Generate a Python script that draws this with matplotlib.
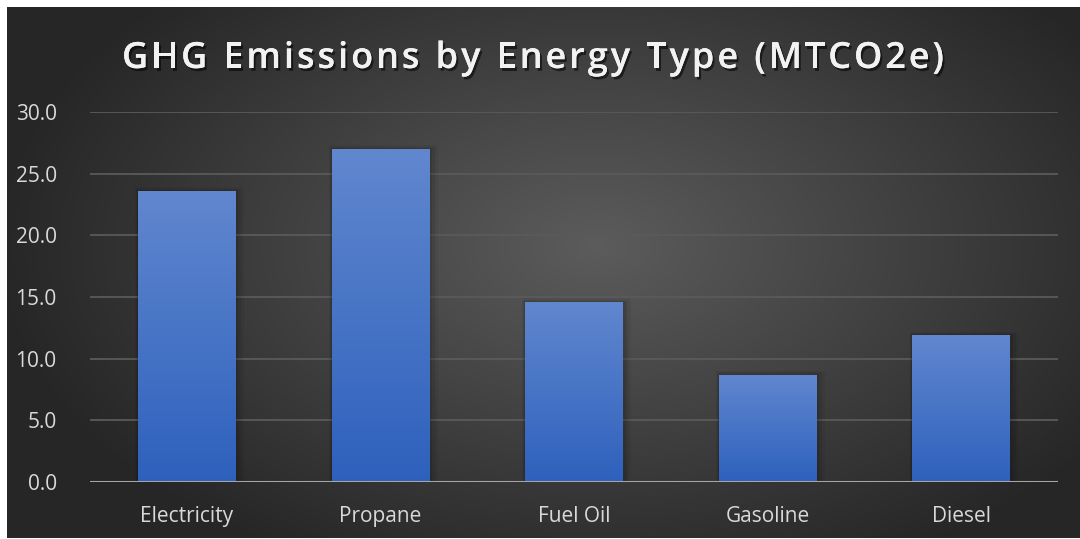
import numpy as np
import matplotlib
matplotlib.use("Agg")
import matplotlib.pyplot as plt
import matplotlib.patheffects as pe
from matplotlib.patches import Rectangle

# chart data
categories = ["Electricity", "Propane", "Fuel Oil", "Gasoline", "Diesel"]
emissions = [23.6, 27.0, 14.6, 8.7, 11.9]
yticks = [0, 5, 10, 15, 20, 25, 30]
title = "GHG Emissions by Energy Type (MTCO2e)"

W, H = 1080, 539
fig = plt.figure(figsize=(W / 100, H / 100), dpi=100)
fig.patch.set_facecolor("white")

# dark panel with radial gradient
bg = fig.add_axes([7 / W, 1 / H, (W - 7) / W, (H - 8) / H])
bg.set_axis_off()
yy, xx = np.mgrid[0:1:300j, 0:1:600j]
r = np.sqrt(((xx - 0.55) / 0.75) ** 2 + ((yy - 0.55) / 0.9) ** 2)
r = np.clip(r / 0.75, 0, 1)
c0, c1 = 0.36, 0.15
shade = c0 + (c1 - c0) * r
bg.imshow(np.dstack([shade] * 3), extent=[0, 1, 0, 1], aspect="auto", origin="lower")
bg.set_xlim(0, 1)
bg.set_ylim(0, 1)

# main axes
ax = fig.add_axes([90 / W, (H - 482) / H, (1058 - 90) / W, (482 - 112) / H])
ax.set_facecolor("none")
x = np.arange(len(categories))
ax.set_yticks(yticks)
ax.set_yticklabels([f"{v:.1f}" for v in yticks])
ax.set_xticks(x)
ax.set_xticklabels(categories)
ax.tick_params(length=0, colors="#d9d9d9", labelsize=15)
ax.tick_params(axis="x", pad=17)
ax.tick_params(axis="y", pad=24)
for lab in ax.get_xticklabels() + ax.get_yticklabels():
    lab.set_fontfamily("Open Sans")
for s in ax.spines.values():
    s.set_visible(False)
ax.set_axisbelow(True)
ax.yaxis.grid(True, color="#5a5a5a", linewidth=1.3)
ax.axhline(0, color="#a6a6a6", linewidth=2.2, zorder=6)

width = 0.505
grad = np.linspace(0, 1, 256).reshape(-1, 1)
top = np.array([0.38, 0.53, 0.81])
bot = np.array([0.18, 0.38, 0.74])
cols = (bot + (top - bot) * grad).reshape(256, 1, 3)
for xi, v in zip(x, emissions):
    # soft shadow
    for k, a in enumerate([0.09, 0.07, 0.05]):
        d = 0.012 * (k + 1)
        ax.add_patch(Rectangle((xi - width / 2 - d * 0.4, 0), width + d * 1.6, v + d * 8,
                               facecolor="black", alpha=a, edgecolor="none", zorder=2))
    rect = Rectangle((xi - width / 2, 0), width, v, facecolor="none", edgecolor="none", zorder=3)
    ax.add_patch(rect)
    im = ax.imshow(cols, extent=[xi - width / 2, xi + width / 2, 0, v], origin="lower",
                   aspect="auto", zorder=3)
    im.set_clip_path(rect)
ax.set_xlim(-0.5, len(categories) - 0.5)
ax.set_ylim(0, 30)

# title with spread letters
renderer = fig.canvas.get_renderer()
tprops = dict(color="#f2f2f2", fontsize=26, fontweight="semibold", family="Open Sans",
              va="baseline", ha="left")
widths = []
for ch in title:
    t = fig.text(0, 0, ch if ch != " " else "n", **tprops)
    bb = t.get_window_extent(renderer)
    widths.append(bb.width * (0.45 if ch == " " else 1.0))
    t.remove()
target = 944 - 122
extra = (target - sum(widths)) / (len(title) - 1)
px = 122.0
shadow = [pe.withSimplePatchShadow(offset=(1.5, -2), shadow_rgbFace="black", alpha=0.55), pe.Normal()]
for ch, w in zip(title, widths):
    if ch != " ":
        fig.text(px / W, (H - 68) / H, ch, path_effects=shadow, **tprops)
    px += w + extra

fig.savefig("out.png", dpi=100, facecolor="white")
